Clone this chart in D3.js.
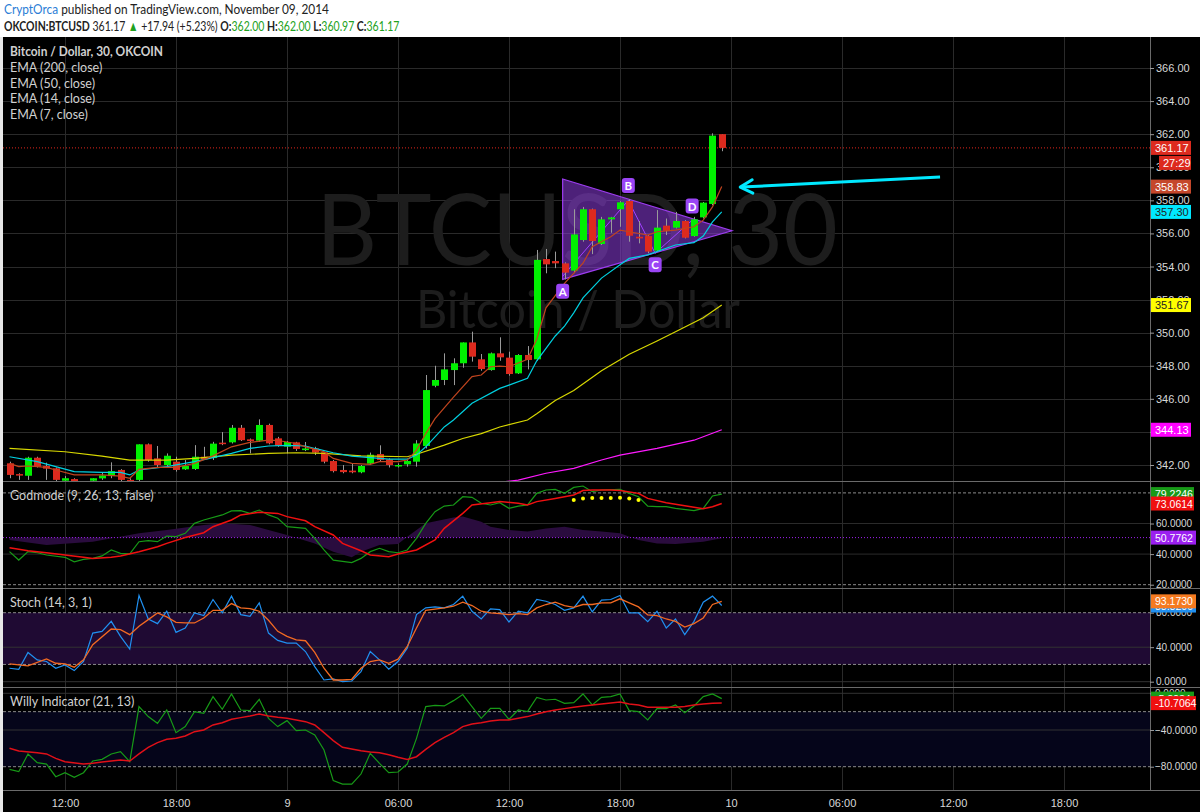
<!DOCTYPE html>
<html><head><meta charset="utf-8">
<script src="https://cdn.jsdelivr.net/npm/d3@7"></script>
<style>body{margin:0;background:#fff;}svg{display:block;}</style>
</head><body><svg id="c" width="1200" height="812"></svg>
<script>
// ---------------- DATA ----------------
const opens = [342.1,341.45,341.35,342.44,341.94,341.8,341.05,341.15,340.9,341.05,
341.19,341.33,341.7,341.1,341.1,343.25,342.4,342.0,342.2,341.74,
341.76,342.5,342.42,343.35,343.37,344.25,343.55,343.47,344.42,343.61,
343.11,343.37,342.9,343.0,342.77,342.24,341.7,341.66,341.56,342.08,
342.66,342.34,341.92,342.04,342.2,343.15,346.79,347.14,347.74,348.15,
349.41,348.39,347.74,348.75,348.49,347.54,348.65,348.39,354.45,354.33,
354.19,353.75,355.6,357.46,355.36,356.85,357.46,357.96,355.8,355.84,
354.96,356.47,356.35,356.75,355.84,356.97,357.78,362.0];
const highs = [342.2,341.5,342.5,342.5,342.14,341.85,341.33,341.2,341.0,341.2,
341.53,342.16,341.75,341.2,343.25,343.3,343.15,342.7,342.5,342.3,
343.2,343.1,343.4,343.99,344.42,344.42,343.6,344.76,344.5,343.7,
343.45,343.4,343.39,343.1,342.8,342.3,342.0,342.1,342.0,342.75,
343.19,342.4,342.1,342.3,343.5,347.44,348.0,348.75,348.45,349.41,
350.06,348.71,348.8,349.72,348.85,348.7,349.19,355.0,355.06,354.9,
354.25,357.46,357.6,357.5,357.0,357.0,357.95,358.06,356.75,355.9,
357.41,356.9,357.3,356.8,357.0,357.9,362.05,362.0];
const lows = [341.2,341.1,341.1,341.85,341.1,341.0,340.9,340.9,340.6,340.9,
341.1,341.2,340.9,340.9,340.9,342.2,341.86,341.9,341.6,341.7,
341.7,342.3,342.3,343.2,343.3,343.45,342.7,343.4,343.25,343.1,
342.7,342.85,342.84,342.6,342.1,341.55,341.5,341.5,341.5,342.0,
342.2,341.85,341.85,341.9,341.9,343.0,346.7,346.83,346.83,347.88,
348.25,347.7,347.7,348.3,347.4,347.5,347.78,348.3,353.59,353.9,
353.22,353.6,355.5,354.75,355.3,356.04,356.4,355.5,355.4,354.8,
354.9,355.9,356.3,355.7,355.8,356.9,357.7,360.97];
const closes = [341.4,341.37,342.44,341.9,341.78,341.1,341.2,341.0,340.8,341.2,
341.37,341.63,341.1,341.0,343.25,342.3,342.0,342.56,341.7,341.94,
342.5,342.35,343.29,343.27,344.25,343.5,343.45,344.42,343.31,343.17,
343.39,342.97,343.0,342.75,342.2,341.63,341.57,341.56,341.94,342.62,
342.3,342.0,342.0,342.24,343.3,346.53,347.14,347.78,348.15,349.41,
348.55,347.8,348.75,348.51,347.5,348.65,348.35,354.4,354.13,354.19,
353.63,355.94,357.46,355.54,356.85,356.97,357.88,355.86,355.7,354.9,
356.35,356.16,356.75,355.74,356.85,357.86,361.91,361.17];

// EMA lines: [bar index, value]
const ema200 = [[40,340.3],[50,340.75],[55,341.09],[58,341.5],[61,341.8],[64,342.3],[66,342.6],[70,343.0],[74,343.5],[77,344.13]];
const ema50 = [[0,343.0],[6,342.8],[10,342.54],[13,342.3],[17,342.3],[20,342.4],[24,342.6],[28,342.7],[31,342.74],[34,342.7],[38,342.55],[43,342.5],[44,342.65],[47,343.2],[49,343.6],[51,343.9],[53,344.3],[56,344.72],[57,345.1],[59,345.9],[61,346.5],[64,347.7],[67,348.7],[70,349.5],[72,350.06],[75,350.9],[77,351.67]];
const ema14 = [[0,342.5],[3,342.2],[5,341.9],[7,341.6],[10,341.56],[12,341.55],[13,341.4],[14,341.7],[17,341.9],[20,342.2],[22,342.45],[24,342.7],[26,343.0],[28,343.15],[30,343.19],[32,343.15],[33,343.0],[35,342.74],[37,342.54],[39,342.44],[41,342.36],[43,342.36],[44,342.6],[45,343.1],[47,344.3],[48,344.72],[50,345.73],[53,346.63],[54,346.83],[56,347.24],[57,348.3],[59,349.8],[60,350.4],[61,351.2],[62,352.1],[64,353.3],[66,354.1],[67,354.49],[69,354.7],[71,355.1],[72,355.3],[74,355.44],[75,355.84],[76,356.7],[77,357.3]];
const ema7 = [[0,342.1],[1,341.9],[2,341.94],[4,341.86],[5,341.7],[7,341.4],[10,341.4],[12,341.33],[13,341.2],[14,341.74],[16,341.86],[18,341.86],[20,342.1],[22,342.55],[24,343.1],[26,343.37],[28,343.5],[29,343.48],[31,343.3],[32,343.1],[34,342.8],[35,342.4],[37,342.1],[39,342.04],[40,342.2],[42,342.2],[43,342.3],[44,342.9],[45,343.9],[46,344.8],[48,346.1],[50,347.34],[51,347.44],[52,347.94],[53,347.98],[54,347.94],[56,348.39],[57,349.6],[58,351.5],[60,352.98],[62,354.2],[63,355.2],[65,355.8],[66,356.2],[67,356.1],[69,355.9],[70,356.1],[72,356.2],[73,356.3],[74,356.4],[75,356.8],[76,357.6],[77,358.83]];

// Godmode
const godGreen = [[0,41.6],[1,36.1],[2,41.6],[3,40.9],[4,39.4],[6,37.9],[7,35.0],[8,36.6],[9,37.2],[10,38.8],[11,42.7],[12,40.5],[13,40.1],[14,48.1],[15,48.8],[16,48.1],[17,51.8],[18,51.4],[19,53.6],[20,60.1],[21,62.3],[23,65.6],[24,68.2],[25,68.4],[26,66.6],[27,68.8],[28,65.6],[29,63.4],[30,57.9],[32,56.8],[33,50.3],[34,42.7],[35,36.1],[37,34.4],[38,37.2],[39,41.6],[40,43.8],[41,41.6],[42,40.9],[43,42.7],[44,50.3],[45,60.1],[46,67.7],[47,71.4],[48,72.1],[49,77.5],[50,77.1],[51,73.2],[52,72.1],[53,73.6],[54,69.9],[55,71.4],[56,72.1],[57,79.7],[58,81.9],[59,82.3],[60,79.7],[61,83.6],[62,84.5],[63,80.8],[64,81.9],[66,82.3],[67,79.7],[68,77.5],[69,71.4],[70,71.0],[71,71.0],[72,69.9],[74,68.4],[75,69.9],[76,78.0],[77,79.2]];
const godRed = [[0,44.2],[2,42.2],[4,40.9],[6,39.4],[8,37.9],[9,37.2],[11,37.9],[12,38.8],[14,41.6],[16,44.8],[17,47.0],[19,50.9],[21,54.0],[22,57.9],[24,62.3],[25,65.6],[27,67.3],[29,66.6],[30,64.5],[32,61.8],[33,57.9],[35,52.5],[36,47.0],[38,42.2],[39,39.4],[41,38.3],[42,40.1],[44,42.7],[46,49.2],[47,56.8],[49,66.6],[50,72.1],[52,73.6],[53,74.3],[55,73.2],[56,72.1],[57,74.3],[59,76.4],[61,78.6],[62,81.5],[63,81.9],[65,81.9],[66,81.5],[68,79.7],[69,76.4],[71,73.6],[74,70.6],[75,69.7],[76,71.0],[77,73.06]];
const godArea = [[0,49.2],[4,45.9],[9,48.1],[14,53.6],[17,55.8],[21,59.0],[23,60.1],[26,59.0],[28,55.8],[30,52.5],[33,47.0],[35,41.6],[37,37.9],[38,41.6],[40,45.9],[42,46.6],[43,51.4],[45,60.1],[48,64.0],[49,64.5],[51,61.2],[52,57.9],[54,55.8],[56,54.7],[58,56.8],[60,57.9],[62,55.8],[64,54.7],[66,53.6],[68,49.2],[70,47.0],[72,46.6],[75,48.1],[77,50.3]];
const godMid = 50.7762;
const godDots = [[61,75.3],[62,76.4],[63,76.6],[64,76.6],[65,76.6],[66,76.8],[67,76.4],[68,75.3]];

// Stoch
const stochK = [[0,15.6],[1,14.4],[2,33.9],[3,25.3],[4,23.4],[5,15.6],[6,19.5],[7,12.9],[8,23.4],[9,56.4],[10,58.4],[11,70.0],[12,52.5],[13,37.8],[14,100],[15,72.7],[16,67.3],[17,81.7],[18,57.2],[19,62.2],[20,79.7],[21,76.6],[22,95.3],[23,79.7],[24,99.2],[25,77.8],[26,75.8],[27,91.4],[28,56.4],[29,47.9],[30,44.7],[31,44.7],[32,35.0],[33,17.5],[34,2.0],[35,3.2],[36,0.0],[37,0.8],[38,11.7],[39,35.0],[40,25.3],[41,14.4],[42,23.4],[43,38.9],[44,77.8],[45,85.6],[46,86.7],[47,85.6],[48,89.5],[49,99.2],[50,81.7],[51,72.7],[52,84.4],[53,83.6],[54,69.2],[55,81.7],[56,79.7],[57,95.3],[58,93.3],[59,89.5],[60,82.8],[61,85.6],[62,99.2],[63,80.9],[64,94.5],[65,95.3],[66,100],[67,79.7],[68,79.7],[69,69.6],[70,81.7],[71,62.2],[72,72.7],[73,54.5],[74,70.0],[75,92.2],[76,99.2],[77,88.3]];
const stochD = [[0,20.6],[2,18.3],[4,26.5],[5,21.4],[6,20.6],[7,16.8],[8,25.3],[9,42.8],[11,61.1],[12,60.3],[13,54.5],[14,64.2],[15,72.0],[16,79.7],[17,75.1],[18,68.9],[19,68.1],[20,68.1],[21,73.9],[22,82.8],[23,82.8],[24,90.6],[25,85.6],[26,84.8],[27,81.7],[28,71.2],[29,58.4],[30,52.5],[31,48.6],[32,47.5],[33,33.9],[34,15.6],[35,2.0],[36,2.0],[37,2.8],[38,15.6],[39,23.4],[40,25.3],[41,21.4],[42,26.1],[43,40.9],[44,62.2],[45,82.8],[47,85.6],[48,87.5],[49,92.2],[50,88.3],[51,81.7],[52,79.7],[53,79.0],[54,77.8],[55,79.0],[56,77.8],[57,85.6],[58,89.5],[59,92.2],[60,88.3],[61,86.3],[62,89.5],[63,89.5],[64,91.4],[65,91.4],[66,96.1],[67,91.4],[68,86.7],[69,77.4],[70,76.6],[71,72.7],[72,70.0],[73,63.4],[74,67.3],[75,73.9],[76,89.5],[77,93.17]];

// Willy
const willyGreen = [[0,-82.9],[1,-85.4],[2,-66.1],[3,-75.6],[4,-77.1],[5,-90.9],[6,-86.5],[7,-91.6],[8,-86.5],[9,-73.8],[10,-72.0],[11,-66.1],[12,-63.6],[13,-74.5],[14,-14.5],[15,-25.4],[16,-32.7],[17,-18.2],[18,-42.9],[19,-36.3],[20,-20.0],[21,-21.8],[22,-3.6],[23,-17.4],[24,-0.7],[25,-18.2],[26,-18.9],[27,-6.5],[28,-27.3],[29,-36.3],[30,-29.8],[31,-40.7],[32,-40.0],[33,-45.4],[34,-61.8],[35,-95.2],[36,-98.9],[37,-98.9],[38,-88.0],[39,-65.4],[40,-76.3],[41,-86.5],[42,-85.8],[43,-77.1],[44,-49.1],[45,-14.5],[46,-13.1],[47,-13.8],[48,-8.0],[49,-1.4],[50,-14.5],[51,-27.3],[52,-16.4],[53,-16.4],[54,-28.3],[55,-18.2],[56,-20.0],[57,-4.4],[58,-7.3],[59,-6.5],[60,-10.9],[61,-10.2],[62,-0.7],[63,-12.7],[64,-4.4],[65,-3.6],[66,-0.7],[67,-18.9],[68,-20.0],[69,-29.1],[70,-16.7],[71,-16.7],[72,-12.7],[73,-21.1],[74,-13.8],[75,-3.6],[76,-0.7],[77,-5.8]];
const willyRed = [[0,-59.9],[1,-62.9],[3,-64.7],[4,-66.1],[5,-70.9],[6,-74.5],[8,-77.1],[9,-76.3],[10,-74.9],[12,-72.7],[13,-73.8],[14,-66.1],[15,-58.9],[16,-53.8],[17,-50.2],[18,-49.1],[19,-46.5],[20,-41.8],[21,-40.0],[22,-34.5],[23,-32.0],[24,-28.3],[25,-26.5],[26,-24.7],[27,-22.5],[28,-24.7],[29,-26.2],[30,-27.3],[31,-29.1],[32,-30.9],[33,-34.5],[34,-42.9],[35,-51.6],[36,-58.9],[38,-62.5],[39,-64.0],[40,-64.7],[41,-66.9],[42,-69.8],[43,-72.0],[44,-69.1],[45,-61.1],[46,-53.8],[47,-48.0],[48,-42.9],[49,-36.3],[50,-33.4],[51,-32.0],[52,-30.2],[53,-29.1],[54,-29.1],[55,-27.3],[56,-25.4],[57,-22.5],[58,-20.0],[59,-18.2],[60,-16.7],[61,-15.3],[62,-13.8],[63,-12.7],[64,-11.6],[66,-9.4],[67,-11.6],[68,-12.7],[69,-15.3],[70,-15.3],[71,-15.3],[72,-15.3],[73,-14.5],[74,-12.7],[75,-11.6],[76,-10.9],[77,-10.7]];

// Drawings
const triangle = [[59.8,359.29],[59.8,353.22],[78.1,356.16]];
const zigzag = [[59.8,353.4],[66.9,358.0],[69.8,354.8],[73.8,356.8]];
const pointLabels = [{t:"A",i:59.8,p:352.5},{t:"B",i:66.9,p:358.9},{t:"C",i:69.8,p:354.1},{t:"D",i:73.8,p:357.65}];
const arrowPts = [[100.6,359.41],[79.0,358.8]];

// Axes
const timeTicks = [6,18,30,42,54,66,78,90,102,114];
const timeLabels = ["12:00","18:00","9","06:00","12:00","18:00","10","06:00","12:00","18:00"];
const priceTicks = [342,344,346,348,350,352,354,356,358,360,362,364,366];
const godTicks = [20,40,60];
const stochTicks = [0,40,80];
const willyTicks = [0,-40,-80];

// ---------------- DRAW ----------------
const svg = d3.select("#c");
const W = 1200, AX = 1150;
const P = {main:[37,481], god:[481,588], stoch:[588,687], willy:[687,790]};

const x = d3.scaleLinear().domain([0,114]).range([9.5,1064]);
const yM = d3.scaleLinear().domain([342,366]).range([465,68]);
const yG = d3.scaleLinear().domain([20,60]).range([584.7,523.5]);
const yS = d3.scaleLinear().domain([0,80]).range([681.7,612.7]);
const yW = d3.scaleLinear().domain([-80,0]).range([766.7,693.3]);

svg.append("rect").attr("x",0).attr("y",0).attr("width",W).attr("height",37).attr("fill","#fff");
svg.append("rect").attr("x",3).attr("y",37).attr("width",W-3).attr("height",812-37).attr("fill","#000");
svg.append("rect").attr("x",0).attr("y",37).attr("width",3).attr("height",812-37).attr("fill","#e8e8e8");

const defs = svg.append("defs");
Object.entries(P).forEach(([k,[a,b]])=>{
  defs.append("clipPath").attr("id","clip-"+k).append("rect").attr("x",3).attr("y",a).attr("width",AX-3).attr("height",b-a);
});

// header (each line scaled horizontally to the reference width)
const font = "Lato, 'Open Sans', sans-serif";
function fitLine(g, target){
  const w = g.node().getBBox().width;
  g.attr("transform",`translate(4,0) scale(${target/w},1)`);
}
const hg1 = svg.append("g");
const h1 = hg1.append("text").attr("x",0).attr("y",14).attr("font-family",font).attr("font-size",14).attr("fill","#222");
h1.append("tspan").attr("fill","#2a7dd6").text("CryptOrca");
h1.append("tspan").text(" published on TradingView.com, November 09, 2014");
fitLine(hg1,325);
const hg2 = svg.append("g");
const h2 = hg2.append("text").attr("x",0).attr("y",31).attr("font-family",font).attr("font-size",14).attr("fill","#222");
h2.append("tspan").attr("font-weight","bold").text("OKCOIN:BTCUSD");
h2.append("tspan").text(" 361.17 ");
h2.append("tspan").attr("fill","#21a121").text("▲");
h2.append("tspan").text(" +17.94 (+5.23%) ");
[["O:","362.00"],["H:","362.00"],["L:","360.97"],["C:","361.17"]].forEach(([k,v],j)=>{
  h2.append("tspan").attr("font-weight","bold").text((j?" ":"")+k);
  h2.append("tspan").attr("fill","#21a121").text(v);
});
fitLine(hg2,396);

// grids
const grid = svg.append("g").attr("stroke","#2a2a2a").attr("stroke-width",1);
timeTicks.forEach(t=>{
  grid.append("line").attr("x1",Math.round(x(t))+0.5).attr("x2",Math.round(x(t))+0.5).attr("y1",37).attr("y2",790);
});
priceTicks.forEach(p=>{
  grid.append("line").attr("x1",3).attr("x2",AX).attr("y1",Math.round(yM(p))+0.5).attr("y2",Math.round(yM(p))+0.5);
});

// watermark
svg.append("text").attr("x",577).attr("y",265).attr("text-anchor","middle").attr("font-family",font)
  .attr("font-size",98).attr("fill","#1d1d1d").attr("textLength",522).attr("lengthAdjust","spacingAndGlyphs").text("BTCUSD, 30");
svg.append("text").attr("x",578).attr("y",328).attr("text-anchor","middle").attr("font-family",font)
  .attr("font-size",52).attr("fill","#1d1d1d").attr("textLength",324).attr("lengthAdjust","spacingAndGlyphs").text("Bitcoin / Dollar");

// main panel
const gm = svg.append("g").attr("clip-path","url(#clip-main)");
gm.append("line").attr("x1",3).attr("x2",AX).attr("y1",yM(361.17)).attr("y2",yM(361.17))
  .attr("stroke","#e0261c").attr("stroke-dasharray","1,2").attr("stroke-width",1);

// triangle
gm.append("path").attr("d",d3.line().x(d=>x(d[0])).y(d=>yM(d[1]))(triangle)+"Z")
  .attr("fill","rgba(140,60,220,0.55)").attr("stroke","#9d3cf0").attr("stroke-width",1.2);
gm.append("path").attr("d",d3.line().x(d=>x(d[0])).y(d=>yM(d[1]))(zigzag))
  .attr("fill","none").attr("stroke","#a040ff").attr("stroke-width",1);

// candles
const idx = d3.range(opens.length);
gm.selectAll("line.wick").data(idx).enter().append("line")
  .attr("x1",i=>Math.round(x(i))+0.5).attr("x2",i=>Math.round(x(i))+0.5)
  .attr("y1",i=>yM(highs[i])).attr("y2",i=>yM(lows[i])).attr("stroke","#9a9a9a").attr("stroke-width",1);
gm.selectAll("rect.body").data(idx).enter().append("rect")
  .attr("x",i=>Math.round(x(i))-3).attr("width",7)
  .attr("y",i=>yM(Math.max(opens[i],closes[i])))
  .attr("height",i=>Math.max(1.5,Math.abs(yM(opens[i])-yM(closes[i]))))
  .attr("fill",i=>closes[i]>=opens[i]?"#00f000":"#dd2a1e");

// EMAs
const lm = d3.line().x(d=>x(d[0])).y(d=>yM(d[1]));
[[ema200,"#ff1aff"],[ema50,"#d8d800"],[ema14,"#00d0e0"],[ema7,"#c0441e"]].forEach(([s,c])=>{
  gm.append("path").attr("d",lm(s)).attr("fill","none").attr("stroke",c).attr("stroke-width",1.2);
});

// labels A-D
pointLabels.forEach(l=>{
  const g = gm.append("g").attr("transform",`translate(${x(l.i)},${yM(l.p)})`);
  g.append("rect").attr("x",-6.5).attr("y",-7.5).attr("width",13).attr("height",15).attr("rx",3).attr("fill","#9a45f5");
  g.append("text").attr("y",4.5).attr("text-anchor","middle").attr("font-family",font).attr("font-size",11.5)
    .attr("font-weight","bold").attr("fill","#fff").text(l.t);
});

// arrow
const a0=[x(arrowPts[0][0]),yM(arrowPts[0][1])], a1=[x(arrowPts[1][0]),yM(arrowPts[1][1])];
const ang = Math.atan2(a0[1]-a1[1], a0[0]-a1[0]);
const hl=14;
gm.append("line").attr("x1",a0[0]).attr("y1",a0[1]).attr("x2",a1[0]+1).attr("y2",a1[1]).attr("stroke","#00e8ff").attr("stroke-width",3);
gm.append("path").attr("d",`M${a1[0]+hl*Math.cos(ang-0.5)},${a1[1]+hl*Math.sin(ang-0.5)}L${a1[0]},${a1[1]}L${a1[0]+hl*Math.cos(ang+0.5)},${a1[1]+hl*Math.sin(ang+0.5)}`)
  .attr("fill","none").attr("stroke","#00e8ff").attr("stroke-width",3).attr("stroke-linecap","round").attr("stroke-linejoin","round");

// legend text
const leg = svg.append("g").attr("font-family",font).attr("font-size",12.5).attr("fill","#d0d0d0");
leg.append("text").attr("x",10).attr("y",56).attr("font-weight","bold").attr("textLength",153).attr("lengthAdjust","spacingAndGlyphs").text("Bitcoin / Dollar, 30, OKCOIN");
["EMA (200, close)","EMA (50, close)","EMA (14, close)","EMA (7, close)"].forEach((t,k)=>{
  leg.append("text").attr("x",10).attr("y",72+k*15.5).text(t);
});

// ---- Godmode panel
const gg = svg.append("g").attr("clip-path","url(#clip-god)");
[40,60].forEach(v=>gg.append("line").attr("x1",3).attr("x2",AX).attr("y1",yG(v)).attr("y2",yG(v)).attr("stroke","#2a2a2a"));
[80,20].forEach(v=>gg.append("line").attr("x1",3).attr("x2",AX).attr("y1",yG(v)).attr("y2",yG(v)).attr("stroke","#8a8a8a").attr("stroke-dasharray","3,2"));
gg.append("path").attr("d",d3.area().x(d=>x(d[0])).y0(yG(godMid)).y1(d=>yG(d[1]))(godArea)).attr("fill","#2a0c3e");
gg.append("line").attr("x1",3).attr("x2",AX).attr("y1",yG(godMid)).attr("y2",yG(godMid)).attr("stroke","#a020f0").attr("stroke-dasharray","1,2");
const lg = d3.line().x(d=>x(d[0])).y(d=>yG(d[1]));
gg.append("path").attr("d",lg(godGreen)).attr("fill","none").attr("stroke","#179a17").attr("stroke-width",1.2);
gg.append("path").attr("d",lg(godRed)).attr("fill","none").attr("stroke","#f01010").attr("stroke-width",1.5);
gg.selectAll("circle").data(godDots).enter().append("circle").attr("cx",d=>x(d[0])).attr("cy",d=>yG(d[1])).attr("r",2).attr("fill","#ffff00");

// ---- Stoch panel
const gs = svg.append("g").attr("clip-path","url(#clip-stoch)");
gs.append("rect").attr("x",3).attr("width",AX-3).attr("y",yS(80)).attr("height",yS(20)-yS(80)).attr("fill","#1f0a33");
[0,40].forEach(v=>gs.append("line").attr("x1",3).attr("x2",AX).attr("y1",yS(v)).attr("y2",yS(v)).attr("stroke","#333"));
[80,20].forEach(v=>gs.append("line").attr("x1",3).attr("x2",AX).attr("y1",yS(v)).attr("y2",yS(v)).attr("stroke","#8a8a8a").attr("stroke-dasharray","3,2"));
const ls = d3.line().x(d=>x(d[0])).y(d=>yS(d[1]));
gs.append("path").attr("d",ls(stochK)).attr("fill","none").attr("stroke","#2090f0").attr("stroke-width",1.2);
gs.append("path").attr("d",ls(stochD)).attr("fill","none").attr("stroke","#f26a22").attr("stroke-width",1.3);

// ---- Willy panel
const gw = svg.append("g").attr("clip-path","url(#clip-willy)");
gw.append("rect").attr("x",3).attr("width",AX-3).attr("y",yW(-20)).attr("height",yW(-80)-yW(-20)).attr("fill","#05051a");
[0,-40].forEach(v=>gw.append("line").attr("x1",3).attr("x2",AX).attr("y1",yW(v)).attr("y2",yW(v)).attr("stroke","#333"));
[-20,-80].forEach(v=>gw.append("line").attr("x1",3).attr("x2",AX).attr("y1",yW(v)).attr("y2",yW(v)).attr("stroke","#8a8a8a").attr("stroke-dasharray","3,2"));
const lw = d3.line().x(d=>x(d[0])).y(d=>yW(d[1]));
gw.append("path").attr("d",lw(willyGreen)).attr("fill","none").attr("stroke","#179a17").attr("stroke-width",1.2);
gw.append("path").attr("d",lw(willyRed)).attr("fill","none").attr("stroke","#e01018").attr("stroke-width",1.5);

// panel labels
[["Godmode (9, 26, 13, false)",500],["Stoch (14, 3, 1)",607],["Willy Indicator (21, 13)",706]].forEach(([t,y])=>{
  svg.append("text").attr("x",10).attr("y",y).attr("font-family",font).attr("font-size",12.5).attr("fill","#d0d0d0").text(t);
});

// separators & axis line
[481,588,687,790].forEach(y=>svg.append("line").attr("x1",3).attr("x2",W).attr("y1",y+0.5).attr("y2",y+0.5).attr("stroke","#6a6a6a"));
svg.append("line").attr("x1",AX+0.5).attr("x2",AX+0.5).attr("y1",37).attr("y2",790).attr("stroke","#6a6a6a");

// right axes
const axFont = "'Liberation Sans', Arial, sans-serif";
function styleAxis(fs){
  return g=>{
    g.select(".domain").remove();
    g.selectAll(".tick line").attr("stroke","#999");
    g.selectAll(".tick text").attr("fill","#d8d8d8").attr("font-family",axFont).attr("font-size",fs);
  };
}
svg.append("g").attr("transform",`translate(${AX},0)`).call(d3.axisRight(yM).tickValues(priceTicks).tickFormat(d3.format(".2f")).tickSize(4).tickPadding(2)).call(styleAxis(11));
svg.append("g").attr("transform",`translate(${AX},0)`).call(d3.axisRight(yG).tickValues(godTicks).tickFormat(d3.format(".4f")).tickSize(4).tickPadding(2)).call(styleAxis(10));
svg.append("g").attr("transform",`translate(${AX},0)`).call(d3.axisRight(yS).tickValues(stochTicks).tickFormat(d3.format(".4f")).tickSize(4).tickPadding(2)).call(styleAxis(10));
svg.append("g").attr("transform",`translate(${AX},0)`).call(d3.axisRight(yW).tickValues(willyTicks).tickFormat(d3.format(".4f")).tickSize(4).tickPadding(1)).call(styleAxis(10));

// x axis
const xa = svg.append("g").attr("transform","translate(0,790)")
  .call(d3.axisBottom(x).tickValues(timeTicks).tickFormat((d,k)=>timeLabels[k]).tickSize(0).tickPadding(9));
xa.select(".domain").remove();
xa.selectAll(".tick text").attr("fill","#d8d8d8").attr("font-family",axFont).attr("font-size",11);

// value boxes
function box(y, txt, bg, fg, w, dx, fs){
  const g = svg.append("g").attr("transform",`translate(${AX+1+(dx||0)},${y})`);
  g.append("rect").attr("x",0).attr("y",-7).attr("width",w||40).attr("height",14).attr("fill",bg);
  g.append("text").attr("x",4).attr("y",4).attr("font-family",axFont).attr("font-size",fs||11).attr("fill",fg).text(txt);
}
box(yM(361.17),"361.17","#dd2a1e","#fff");
box(yM(361.17)+15,"27:29","#dd2a1e","#fff",32,8);
box(yM(358.83),"358.83","#c5472b","#fff");
box(yM(357.30),"357.30","#00e8ff","#222");
box(yM(351.67),"351.67","#ffff00","#222");
box(yM(344.13),"344.13","#ff00ff","#fff");
box(yG(79.2246),"79.2246","#179a17","#fff",43,0,10.5);
box(yG(73.0614),"73.0614","#f01010","#fff",43,0,10.5);
box(yG(godMid),"50.7762","#9b1ff0","#fff",45,0,10.5);
box(yS(88.3),"88.3296","#2090f0","#fff",45,0,10.5);
box(yS(93.173),"93.1730","#f57a20","#fff",45,0,10.5);
box(yW(-5.8),"-5.8234","#179a17","#fff",43,0,10.5);
box(yW(-10.7064),"-10.7064","#f01010","#fff",45,0,10.5);
</script></body></html>
